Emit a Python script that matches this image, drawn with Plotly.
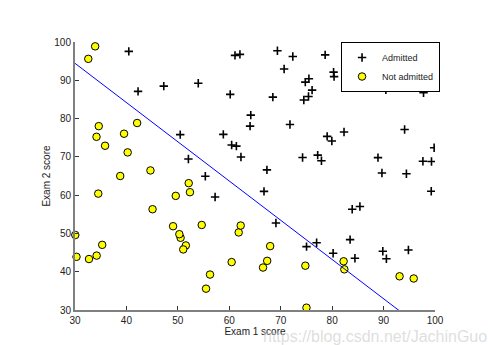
import plotly.graph_objects as go

# ex2 data: exam 1 score, exam 2 score, admitted (1) / not admitted (0)
exam1 = [34.62, 30.29, 35.85, 60.18, 79.03, 45.08, 61.11, 75.02, 76.10, 84.43,
         95.86, 75.01, 82.31, 69.36, 39.54, 53.97, 69.07, 67.95, 70.66, 76.98,
         67.37, 89.68, 50.53, 34.21, 77.92, 62.27, 80.19, 93.11, 61.83, 38.79,
         61.38, 85.40, 52.11, 52.05, 40.24, 54.64, 33.92, 64.18, 74.79, 34.18,
         83.90, 51.55, 94.44, 82.37, 51.05, 62.22, 77.19, 97.77, 62.07, 91.56,
         79.94, 99.27, 90.55, 34.52, 50.29, 49.59, 97.65, 32.58, 74.25, 71.80,
         75.40, 35.29, 56.25, 30.06, 44.67, 66.56, 40.46, 49.07, 80.28, 66.75,
         32.72, 64.04, 72.35, 60.46, 58.84, 99.83, 47.26, 50.46, 60.46, 82.23,
         88.91, 94.83, 67.32, 57.24, 80.37, 68.47, 42.08, 75.48, 78.64, 52.35,
         94.09, 90.45, 55.48, 74.49, 89.85, 83.49, 42.26, 99.32, 55.34, 74.78]
exam2 = [78.02, 43.89, 72.90, 86.31, 75.34, 56.32, 96.51, 46.55, 87.42, 43.53,
         38.23, 30.60, 76.48, 97.72, 76.04, 89.21, 52.74, 46.68, 92.93, 47.58,
         42.84, 65.80, 48.86, 44.21, 68.97, 69.95, 44.82, 38.80, 50.26, 65.00,
         72.81, 57.05, 63.13, 69.43, 71.17, 52.21, 98.87, 80.91, 41.57, 75.24,
         56.31, 46.86, 65.57, 40.62, 45.82, 52.06, 70.46, 86.73, 96.77, 88.70,
         74.16, 61.00, 43.39, 60.40, 49.80, 59.81, 68.86, 95.60, 69.82, 78.45,
         85.76, 47.02, 39.26, 49.59, 66.45, 41.09, 97.54, 51.88, 92.12, 60.99,
         43.31, 78.03, 96.23, 73.09, 75.86, 72.37, 88.48, 75.81, 42.51, 42.72,
         69.80, 45.69, 66.59, 59.51, 90.96, 85.59, 78.84, 90.42, 96.65, 60.77,
         77.16, 87.51, 35.57, 84.85, 45.36, 48.38, 87.10, 68.78, 64.93, 89.53]
admitted = [0, 0, 0, 1, 1, 0, 1, 1, 1, 1,
            0, 0, 1, 1, 0, 1, 1, 0, 1, 1,
            0, 1, 0, 0, 1, 1, 1, 0, 0, 0,
            1, 1, 0, 1, 0, 0, 0, 1, 0, 0,
            1, 0, 1, 0, 0, 0, 1, 1, 1, 1,
            1, 1, 1, 0, 0, 0, 1, 0, 1, 1,
            1, 0, 0, 0, 0, 0, 1, 0, 1, 1,
            0, 1, 1, 1, 1, 1, 1, 1, 0, 0,
            1, 1, 1, 1, 1, 1, 0, 1, 1, 0,
            1, 1, 0, 1, 1, 1, 1, 1, 1, 1]

# decision boundary endpoints
boundary_x = [28.06, 101.83]
boundary_y = [96.42, 20.82]

x_ticks = [30, 40, 50, 60, 70, 80, 90, 100]
y_ticks = [30, 40, 50, 60, 70, 80, 90, 100]

pos_x = [a for a, l in zip(exam1, admitted) if l == 1]
pos_y = [b for b, l in zip(exam2, admitted) if l == 1]
neg_x = [a for a, l in zip(exam1, admitted) if l == 0]
neg_y = [b for b, l in zip(exam2, admitted) if l == 0]

font = "Liberation Sans, Arial, sans-serif"

fig = go.Figure()
fig.add_trace(go.Scatter(
    x=pos_x, y=pos_y, mode="markers", name="Admitted",
    marker=dict(symbol="cross-thin", size=6, color="black",
                line=dict(color="black", width=1.6))))
fig.add_trace(go.Scatter(
    x=neg_x, y=neg_y, mode="markers", name="Not admitted",
    marker=dict(symbol="circle", size=7.5, color="#ffff00",
                line=dict(color="black", width=1)),
    cliponaxis=False))
fig.add_trace(go.Scatter(
    x=boundary_x, y=boundary_y, mode="lines", showlegend=False,
    line=dict(color="#0000ff", width=1)))

axis_common = dict(
    showgrid=False, zeroline=False, showline=True, linecolor="#808080",
    linewidth=2, ticks="inside", ticklen=4, tickwidth=1, tickcolor="#333333",
    tickfont=dict(family=font, size=10, color="#222222"),
    mirror=False,
)

fig.update_layout(
    width=488, height=345,
    margin=dict(l=75, r=53, t=42, b=33),
    paper_bgcolor="white", plot_bgcolor="white",
    font=dict(family=font, size=10, color="#222222"),
    xaxis=dict(range=[30, 100], tickvals=x_ticks, **axis_common,
               title=dict(text="Exam 1 score", standoff=0,
                          font=dict(family=font, size=10, color="#222222"))),
    yaxis=dict(range=[30, 100], tickvals=y_ticks, **axis_common,
               title=dict(text="Exam 2 score", standoff=2,
                          font=dict(family=font, size=10, color="#222222"))),
    legend=dict(x=0.739, y=1.0, xanchor="left", yanchor="top",
                bordercolor="black", borderwidth=1, bgcolor="white",
                font=dict(family=font, size=9, color="#222222"),
                itemwidth=30, tracegroupgap=0),
    showlegend=True,
)

fig.add_annotation(
    text="https://blog.csdn.net/JachinGuo", xref="paper", yref="paper",
    x=1.15, y=-0.06, xanchor="right", yanchor="top", showarrow=False,
    font=dict(family=font, size=16, color="rgba(200,200,200,0.6)"))

fig.write_html("out.html")
